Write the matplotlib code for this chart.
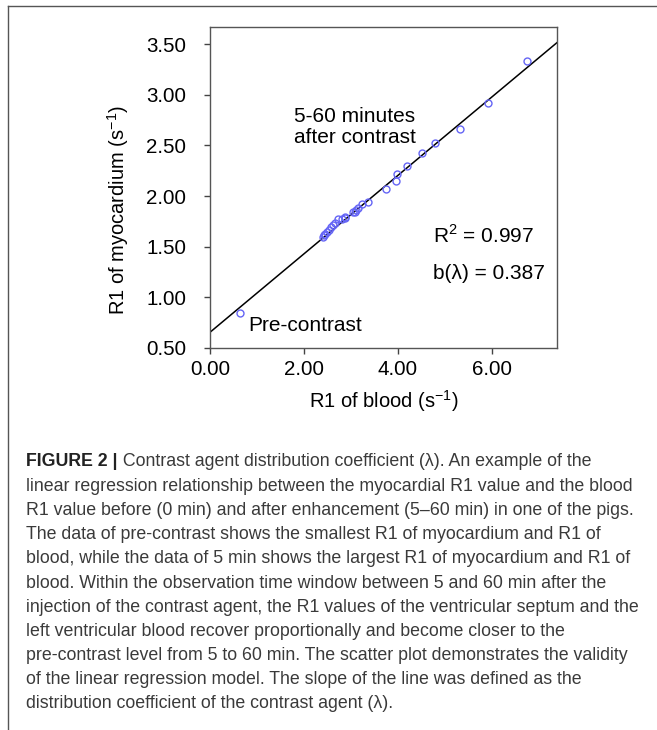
import matplotlib
matplotlib.use('Agg')
import matplotlib.pyplot as plt
from matplotlib.lines import Line2D

plt.rcParams['font.family'] = ['Liberation Sans', 'DejaVu Sans']

# data
r1_blood = [0.64, 2.40, 2.43, 2.46, 2.50, 2.53, 2.57, 2.62, 2.66, 2.73, 2.82, 2.87,
            2.88, 3.04, 3.08, 3.12, 3.16, 3.23, 3.37, 3.76, 3.96, 3.99, 4.20, 4.52,
            4.79, 5.33, 5.93, 6.76]
r1_myo = [0.85, 1.60, 1.62, 1.63, 1.65, 1.67, 1.69, 1.71, 1.73, 1.77, 1.77, 1.79,
          1.78, 1.84, 1.84, 1.86, 1.88, 1.92, 1.94, 2.07, 2.15, 2.22, 2.30, 2.43,
          2.52, 2.66, 2.92, 3.33]
slope = 0.387
intercept = 0.655
r2 = 0.997
xticks = [0, 2, 4, 6]
yticks = [0.5, 1.0, 1.5, 2.0, 2.5, 3.0, 3.5]

caption_head = 'FIGURE 2 |'
caption_first = ' Contrast agent distribution coefficient (\u03bb). An example of the'
caption = [
    "linear regression relationship between the myocardial R1 value and the blood",
    "R1 value before (0 min) and after enhancement (5\u201360 min) in one of the pigs.",
    "The data of pre-contrast shows the smallest R1 of myocardium and R1 of",
    "blood, while the data of 5 min shows the largest R1 of myocardium and R1 of",
    "blood. Within the observation time window between 5 and 60 min after the",
    "injection of the contrast agent, the R1 values of the ventricular septum and the",
    "left ventricular blood recover proportionally and become closer to the",
    "pre-contrast level from 5 to 60 min. The scatter plot demonstrates the validity",
    "of the linear regression model. The slope of the line was defined as the",
    "distribution coefficient of the contrast agent (\u03bb).",
]

#Create Figure
fig = plt.figure(figsize=(6.57, 7.30), dpi=100)
ax = fig.add_axes([0.3196, 0.5233, 0.528, 0.4397])

#Plot
ax.axline((0, intercept), slope=slope, color='black', lw=1.1, zorder=2)
ax.plot(r1_blood, r1_myo, 'o', mfc='none', mec='#6565f5', ms=5, mew=1.0, zorder=3)

ax.set_xlim(0, 7.39)
ax.set_ylim(0.5, 3.67)
ax.set_xticks(xticks)
ax.set_yticks(yticks)
ax.set_xticklabels(['%.2f' % v for v in xticks])
ax.set_yticklabels(['%.2f' % v for v in yticks])
ax.tick_params(direction='out', length=4, width=1, color='#444444', labelsize=14.8)
ax.tick_params(axis='y', pad=13)
ax.tick_params(axis='x', pad=5)
for s in ax.spines.values():
    s.set_color('#555555')
    s.set_linewidth(1)

ax.set_xlabel(r'R1 of blood (s$^{\mathregular{-1}}$)', fontsize=14.5)
ax.set_ylabel(r'R1 of myocardium (s$^{\mathregular{-1}}$)', fontsize=14.5)
ax.xaxis.set_label_coords(0.5, -0.125)
ax.yaxis.set_label_coords(-0.228, 0.431)

ax.text(1.78, 2.88, '5-60 minutes\nafter contrast', fontsize=15, va='top', ha='left',
        linespacing=1.13)
ax.text(0.82, 0.72, 'Pre-contrast', fontsize=15, va='center', ha='left')
ax.text(4.76, 1.61, r'R$^{\mathregular{2}}$ = %.3f' % r2, fontsize=15, va='center', ha='left')
ax.text(4.76, 1.24, 'b(\u03bb) = %.3f' % slope, fontsize=15, va='center', ha='left')

#Outer frame
fig.add_artist(Line2D([8 / 657, 8 / 657], [0, 1 - 6 / 730], color='#555555', lw=1))
fig.add_artist(Line2D([8 / 657, 1], [1 - 6 / 730, 1 - 6 / 730], color='#555555', lw=1))

#Caption
x0 = 26 / 657
y_first = 462
step = 24.2
cap_size = 12.8
t = fig.text(x0, 1 - y_first / 730, caption_head, fontsize=cap_size, fontweight='bold',
             color='#222222', va='center', ha='left')
ax.annotate(caption_first, xy=(1, 0.5), xycoords=t, fontsize=cap_size, color='#3a3a3a',
            va='center', ha='left', annotation_clip=False)
for i, line in enumerate(caption):
    fig.text(x0, 1 - (y_first + step * (i + 1)) / 730, line, fontsize=cap_size,
             color='#3a3a3a', va='center', ha='left')

plt.savefig('out.png', dpi=100)
